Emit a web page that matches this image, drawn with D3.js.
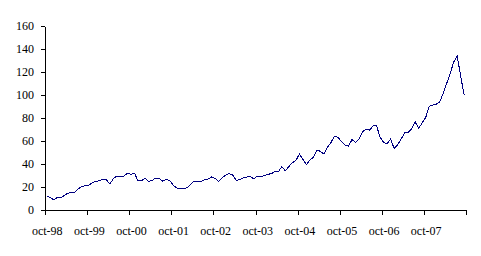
<!DOCTYPE html>
<html>
<head>
<meta charset="utf-8">
<script src="https://cdn.jsdelivr.net/npm/d3@7"></script>
<style>
  html, body { margin: 0; padding: 0; background: #fff; }
  svg { display: block; }
  text { font-family: "Liberation Serif", "Times New Roman", serif; font-size: 12px; fill: #000; }
</style>
</head>
<body>
<svg id="chart" width="481" height="256"></svg>
<script>
// Monthly values, oct-98 .. sep-08 (120 months)
const values = [
  12.2, 11.0, 8.7, 11.0, 10.4, 12.8, 14.5, 15.6, 15.6, 18.6, 20.3, 21.4,
  21.4, 23.8, 24.9, 25.5, 26.7, 26.3, 22.6, 27.2, 29.6, 29.0, 29.6, 32.0,
  31.0, 32.0, 25.5, 25.5, 27.8, 24.9, 25.5, 27.8, 27.5, 25.2, 26.4, 25.8,
  21.7, 19.4, 18.3, 18.3, 19.4, 22.3, 25.2, 25.2, 24.6, 26.4, 27.0, 28.7,
  27.5, 24.6, 28.1, 30.4, 31.6, 30.4, 25.8, 26.4, 28.1, 28.7, 29.3, 27.0,
  29.3, 28.7, 29.9, 31.0, 31.6, 33.3, 33.3, 37.7, 34.2, 37.7, 41.2, 42.9,
  48.7, 44.1, 39.4, 43.5, 45.8, 52.2, 51.0, 48.7, 54.5, 58.6, 64.3, 63.2,
  59.4, 56.5, 55.4, 61.2, 58.8, 61.7, 68.1, 70.4, 69.3, 73.3, 73.3, 63.5,
  58.8, 57.7, 61.7, 53.6, 56.5, 61.7, 67.0, 67.5, 70.4, 76.8, 71.0, 75.7,
  80.3, 90.1, 91.3, 91.9, 93.9, 101.4, 110.1, 118.8, 128.7, 133.9, 115.9, 99.7
];
const xTickLabels = ["oct-98","oct-99","oct-00","oct-01","oct-02","oct-03","oct-04","oct-05","oct-06","oct-07"];
const yTicks = [0, 20, 40, 60, 80, 100, 120, 140, 160];
const monthsPerLabel = 12;

const svg = d3.select("#chart");
const x = d3.scaleLinear().domain([0, values.length]).range([45, 466]);
const y = d3.scaleLinear().domain([0, 160]).range([210, 26]);

// Y axis
const yAxis = d3.axisLeft(y).tickValues(yTicks).tickSize(4).tickSizeOuter(0).tickPadding(7);
const gy = svg.append("g").attr("transform", "translate(45,0)").call(yAxis);
gy.selectAll("path, line").attr("stroke", "#000").attr("shape-rendering", "crispEdges");
gy.attr("font-size", null).attr("font-family", null);

// X axis (ticks at category boundaries every 12 months)
const tickPos = d3.range(0, values.length + 1, monthsPerLabel);
const xAxis = d3.axisBottom(x).tickValues(tickPos).tickSize(5).tickSizeOuter(0).tickFormat("");
const gx = svg.append("g").attr("transform", "translate(0,210)").call(xAxis);
gx.selectAll("path, line").attr("stroke", "#000").attr("shape-rendering", "crispEdges");
gx.attr("font-size", null).attr("font-family", null);

// X labels centred on first category of each year
svg.append("g").selectAll("text").data(xTickLabels).join("text")
  .attr("x", (d, i) => x(i * monthsPerLabel + 0.5) + 0.5)
  .attr("y", 235)
  .attr("text-anchor", "middle")
  .text(d => d);

// Line
const line = d3.line()
  .x((d, i) => x(i + 0.5))
  .y(d => y(d));
svg.append("path")
  .datum(values)
  .attr("fill", "none")
  .attr("stroke", "#000080")
  .attr("stroke-width", 1)
  .attr("shape-rendering", "crispEdges")
  .attr("d", line);
</script>
</body>
</html>
